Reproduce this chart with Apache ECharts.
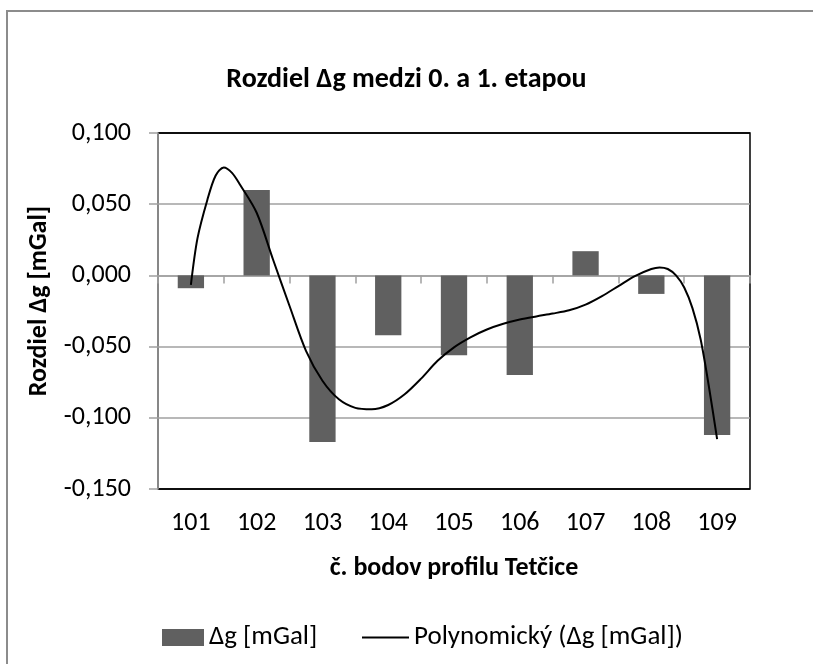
<!DOCTYPE html>
<html>
<head>
<meta charset="utf-8">
<script src="https://cdn.jsdelivr.net/npm/echarts@6/dist/echarts.min.js"></script>
<style>
  html, body { margin: 0; padding: 0; background: #fff; }
  #chart { width: 813px; height: 664px; }
</style>
</head>
<body>
<div id="chart"></div>
<script>
// body profilu
const categories = ['101', '102', '103', '104', '105', '106', '107', '108', '109']
// rozdiel dg [mGal]
const dgValues = [-0.009, 0.060, -0.117, -0.042, -0.056, -0.070, 0.017, -0.013, -0.112]

// polynomicky trend odcitany z obrazka (x = poradie bodu, 0.5 = 101 ... 8.5 = 109)
const trendX = [0.5, 0.6, 0.75, 0.875, 1.0, 1.125, 1.25, 1.5, 1.75, 2.0, 2.25, 2.5, 2.75, 3.0, 3.25, 3.5,
  3.75, 4.0, 4.25, 4.5, 4.75, 5.0, 5.25, 5.5, 5.75, 6.0, 6.25, 6.5, 6.75, 7.0, 7.25, 7.5, 7.625, 7.75, 7.875, 8.0, 8.125, 8.25, 8.375, 8.5]
const trendY = [-0.0066, 0.026, 0.053, 0.070, 0.0758, 0.072, 0.0635, 0.044, 0.011, -0.0215, -0.053, -0.074, -0.087, -0.093, -0.094, -0.091,
  -0.0835, -0.0725, -0.060, -0.0505, -0.0435, -0.038, -0.034, -0.031, -0.0288, -0.0268, -0.0245, -0.0205, -0.0145, -0.0075, -0.0005, 0.0045, 0.0056, 0.0045, 0.000, -0.0085, -0.023, -0.045, -0.078, -0.115]

const yMin = -0.15
const yMax = 0.1
const yStep = 0.05

const font = 'Carlito, Lato, sans-serif'
const gray = '#a0a0a0'

const chart = echarts.init(document.getElementById('chart'))

const option = {
  backgroundColor: '#fff',
  animation: false,
  textStyle: { fontFamily: font },
  graphic: [{
    type: 'rect',
    shape: { x: 7, y: 11, width: 830, height: 700 },
    style: { fill: 'none', stroke: '#8c8c8c', lineWidth: 2 },
    silent: true
  }],
  title: {
    text: 'Rozdiel Δg medzi 0. a 1. etapou',
    left: 'center',
    top: 61,
    textStyle: { fontFamily: font, fontSize: 28, fontWeight: 'bold', color: '#000' }
  },
  grid: {
    left: 158,
    right: 63,
    top: 133,
    bottom: 175,
    show: true,
    borderColor: '#000',
    borderWidth: 1.5
  },
  legend: [{
    left: 157,
    top: 619,
    itemWidth: 42,
    itemHeight: 17,
    itemGap: 8,
    icon: 'rect',
    data: ['Δg [mGal]'],
    textStyle: { fontFamily: font, fontSize: 27, color: '#000' }
  }, {
    left: 357,
    top: 619,
    itemWidth: 47,
    itemHeight: 2,
    itemGap: 6,
    icon: 'rect',
    data: ['Polynomický (Δg [mGal])'],
    textStyle: { fontFamily: font, fontSize: 27, color: '#000' }
  }],
  xAxis: [{
    type: 'category',
    data: categories,
    axisLine: { onZero: true, lineStyle: { color: gray, width: 1.5 } },
    axisTick: { show: true, length: 8, interval: 0, lineStyle: { color: gray, width: 1.5 } },
    axisLabel: { show: false },
    splitLine: { show: false }
  }, {
    type: 'category',
    data: categories,
    position: 'bottom',
    axisLine: { show: false, onZero: false },
    axisTick: { show: false },
    axisLabel: { fontFamily: font, fontSize: 26, color: '#000', margin: 21, interval: 0 },
    name: 'č. bodov profilu Tetčice',
    nameLocation: 'middle',
    nameGap: 66,
    nameTextStyle: { fontFamily: font, fontSize: 26, fontWeight: 'bold', color: '#000' }
  }, {
    type: 'value',
    min: 0,
    max: 9,
    show: false,
    position: 'top'
  }],
  yAxis: {
    type: 'value',
    min: yMin,
    max: yMax,
    interval: yStep,
    axisLine: { show: true, lineStyle: { color: gray, width: 1.5 } },
    axisTick: { show: true, length: 9, lineStyle: { color: gray, width: 1.5 } },
    axisLabel: {
      fontFamily: font,
      fontSize: 26,
      color: '#000',
      margin: 27,
      formatter: v => v.toFixed(3).replace('.', ',')
    },
    splitLine: { lineStyle: { color: ['#000', gray, gray, gray, gray, '#000'], width: 1.5 } },
    name: 'Rozdiel Δg [mGal]',
    nameLocation: 'middle',
    nameGap: 102,
    nameTextStyle: { fontFamily: font, fontSize: 26, fontWeight: 'bold', color: '#000', padding: [0, 0, 0, 20] }
  },
  series: [{
    name: 'Δg [mGal]',
    type: 'bar',
    xAxisIndex: 0,
    barWidth: '40%',
    itemStyle: { color: '#606060' },
    data: dgValues
  }, {
    name: 'Polynomický (Δg [mGal])',
    type: 'line',
    xAxisIndex: 2,
    smooth: 0.3,
    symbol: 'none',
    lineStyle: { color: '#000', width: 2 },
    itemStyle: { color: '#000' },
    z: 5,
    data: trendX.map((x, i) => [x, trendY[i]])
  }]
}

chart.setOption(option)
</script>
</body>
</html>
